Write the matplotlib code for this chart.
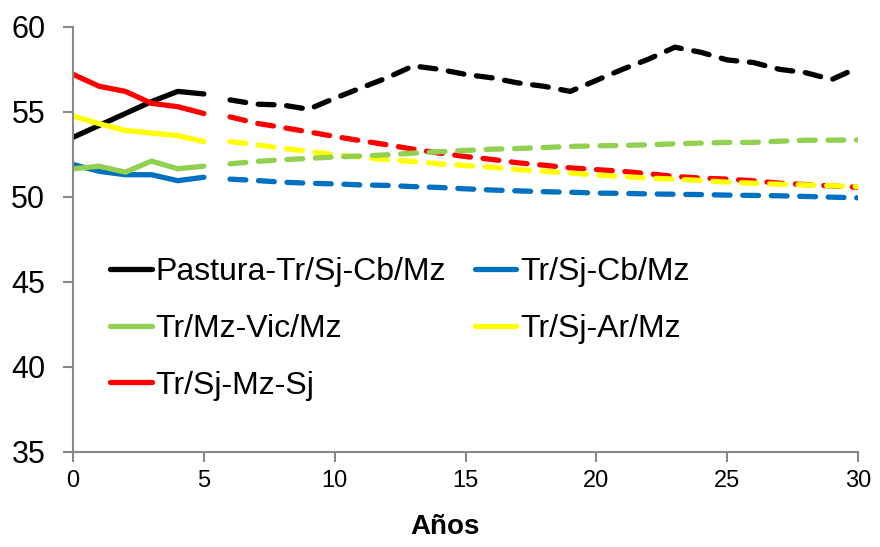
import matplotlib
matplotlib.use('Agg')
import matplotlib.pyplot as plt

plt.rcParams['font.family'] = ['Liberation Sans', 'DejaVu Sans']

years_obs = [0, 1, 2, 3, 4, 5]
years_sim = list(range(6, 31))

# observed (solid) values, years 0-5
pastura_obs = [53.5, 54.2, 54.9, 55.6, 56.2, 56.05]
cbmz_obs = [51.9, 51.5, 51.3, 51.3, 50.95, 51.15]
vic_obs = [51.65, 51.8, 51.45, 52.1, 51.65, 51.8]
ar_obs = [54.75, 54.3, 53.9, 53.75, 53.6, 53.25]
mzsj_obs = [57.2, 56.5, 56.2, 55.5, 55.3, 54.9]

# simulated (dashed) values, years 6-30
pastura_sim = [55.7, 55.45, 55.4, 55.15, 55.8, 56.4, 57.0, 57.7, 57.5, 57.2, 57.0, 56.7,
               56.5, 56.2, 56.85, 57.5, 58.1, 58.8, 58.5, 58.05, 57.9, 57.5, 57.3, 56.9, 57.6]
cbmz_sim = [51.04, 50.96, 50.86, 50.8, 50.76, 50.7, 50.67, 50.6, 50.55, 50.47, 50.4, 50.35,
            50.3, 50.27, 50.22, 50.2, 50.17, 50.15, 50.13, 50.1, 50.08, 50.06, 50.02, 49.98, 49.94]
vic_sim = [51.94, 52.08, 52.18, 52.26, 52.34, 52.4, 52.47, 52.57, 52.65, 52.73, 52.8, 52.84,
           52.9, 52.96, 53.0, 53.02, 53.06, 53.12, 53.16, 53.2, 53.2, 53.27, 53.33, 53.33, 53.35]
ar_sim = [53.25, 53.06, 52.86, 52.67, 52.47, 52.33, 52.18, 52.08, 51.94, 51.84, 51.74, 51.6,
          51.5, 51.4, 51.28, 51.2, 51.1, 51.04, 50.96, 50.86, 50.8, 50.74, 50.7, 50.65, 50.6]
mzsj_sim = [54.7, 54.33, 54.08, 53.82, 53.55, 53.3, 53.06, 52.8, 52.57, 52.37, 52.2, 52.0,
            51.86, 51.7, 51.6, 51.5, 51.35, 51.2, 51.1, 51.04, 50.94, 50.8, 50.72, 50.64, 50.56]

labels = ['Pastura-Tr/Sj-Cb/Mz', 'Tr/Sj-Cb/Mz', 'Tr/Mz-Vic/Mz', 'Tr/Sj-Ar/Mz', 'Tr/Sj-Mz-Sj']
colors = ['#000000', '#0070C0', '#92D050', '#FFFF00', '#FF0000']

obs = [pastura_obs, cbmz_obs, vic_obs, ar_obs, mzsj_obs]
sim = [pastura_sim, cbmz_sim, vic_sim, ar_sim, mzsj_sim]

fig = plt.figure(figsize=(8.8, 5.47), dpi=100)
ax = fig.add_axes([0.083, 0.174, 0.892, 0.777])

handles = []
for y, c, lab in zip(obs, colors, labels):
    h, = ax.plot(years_obs, y, color=c, lw=3.8, solid_capstyle='round', label=lab)
    handles.append(h)
# dashed part; red before yellow so yellow sits on top at the end
for i in [0, 1, 4, 3, 2]:
    ax.plot(years_sim, sim[i], color=colors[i], lw=3.8, dashes=(3.0, 2.4),
            dash_capstyle='round')

ax.set_xlim(0, 30)
ax.set_ylim(35, 60)
ax.set_xticks(range(0, 31, 5))
ax.set_yticks(range(35, 61, 5))
for s in ['top', 'right']:
    ax.spines[s].set_visible(False)
for s in ['left', 'bottom']:
    ax.spines[s].set_color('#888888')
    ax.spines[s].set_linewidth(1.5)
ax.tick_params(axis='both', colors='#888888', length=7, width=1.5, direction='out')
ax.tick_params(axis='y', labelsize=22, labelcolor='black', pad=13)
ax.tick_params(axis='x', labelsize=17, labelcolor='black', pad=6)
ax.set_xlabel('Años', fontsize=20, fontweight='bold')
ax.xaxis.set_label_coords(445 / 880, 1 - 514 / 547, transform=fig.transFigure)

order = [0, 2, 4, 1, 3]
ax.legend([handles[i] for i in order], [labels[i] for i in order], ncol=2,
          loc='upper left', bbox_to_anchor=(110 / 880, 1 - 257 / 547),
          bbox_transform=fig.transFigure, frameon=False, fontsize=23,
          handlelength=1.3, handletextpad=0.12, columnspacing=0.9,
          labelspacing=0.84, borderpad=0, borderaxespad=0)

fig.savefig('out.png', dpi=100)
